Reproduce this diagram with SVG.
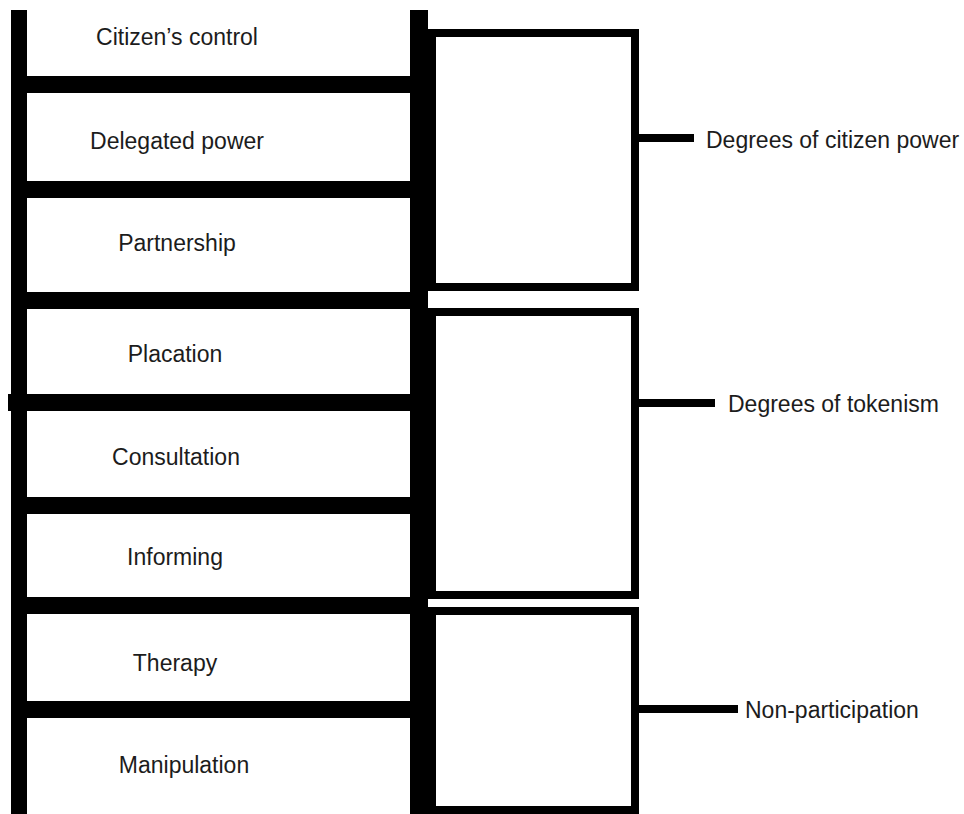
<svg xmlns="http://www.w3.org/2000/svg" width="964" height="814" viewBox="0 0 964 814">
<style>
.bar{fill:#000}
.box{fill:#fff;stroke:#000;stroke-width:8}
.con{stroke:#000;stroke-width:8;fill:none}
.t{font-family:"Liberation Sans",Arial,Helvetica,sans-serif;font-size:23px;fill:#1c1c1c}
.c{text-anchor:middle}
</style>
<rect width="964" height="814" fill="#fff"/>
<g id="ladder">
<rect class="bar" x="11" y="10" width="16" height="804"/>
<rect class="bar" x="410" y="10" width="18" height="804"/>
<rect class="bar" x="27" y="76" width="384" height="17"/>
<rect class="bar" x="27" y="181" width="384" height="17"/>
<rect class="bar" x="27" y="292" width="401" height="17"/>
<rect class="bar" x="8" y="394" width="403" height="17"/>
<rect class="bar" x="27" y="497" width="384" height="17"/>
<rect class="bar" x="27" y="597" width="384" height="17"/>
<rect class="bar" x="27" y="701" width="384" height="17"/>
</g>
<g id="step-citizens-control"><text class="t c" x="177" y="45">Citizen’s control</text></g>
<g id="step-delegated-power"><text class="t c" x="177" y="149">Delegated power</text></g>
<g id="step-partnership"><text class="t c" x="177" y="251">Partnership</text></g>
<g id="step-placation"><text class="t c" x="175" y="362">Placation</text></g>
<g id="step-consultation"><text class="t c" x="176" y="465">Consultation</text></g>
<g id="step-informing"><text class="t c" x="175" y="565">Informing</text></g>
<g id="step-therapy"><text class="t c" x="175" y="671">Therapy</text></g>
<g id="step-manipulation"><text class="t c" x="184" y="773">Manipulation</text></g>
<g id="box-citizen-power"><rect class="box" x="432" y="33" width="203" height="254"/></g>
<g id="box-tokenism"><rect class="box" x="432" y="312" width="203" height="283"/></g>
<g id="box-non-participation"><rect class="box" x="432" y="611" width="203" height="199"/></g>
<g id="connectors">
<line class="con" x1="639" y1="138" x2="694" y2="138"/>
<line class="con" x1="639" y1="403" x2="715" y2="403"/>
<line class="con" x1="639" y1="709" x2="738" y2="709"/>
</g>
<g id="label-citizen-power"><text class="t" x="706" y="148">Degrees of citizen power</text></g>
<g id="label-tokenism"><text class="t" x="728" y="412">Degrees of tokenism</text></g>
<g id="label-non-participation"><text class="t" x="745" y="718">Non-participation</text></g>
</svg>
